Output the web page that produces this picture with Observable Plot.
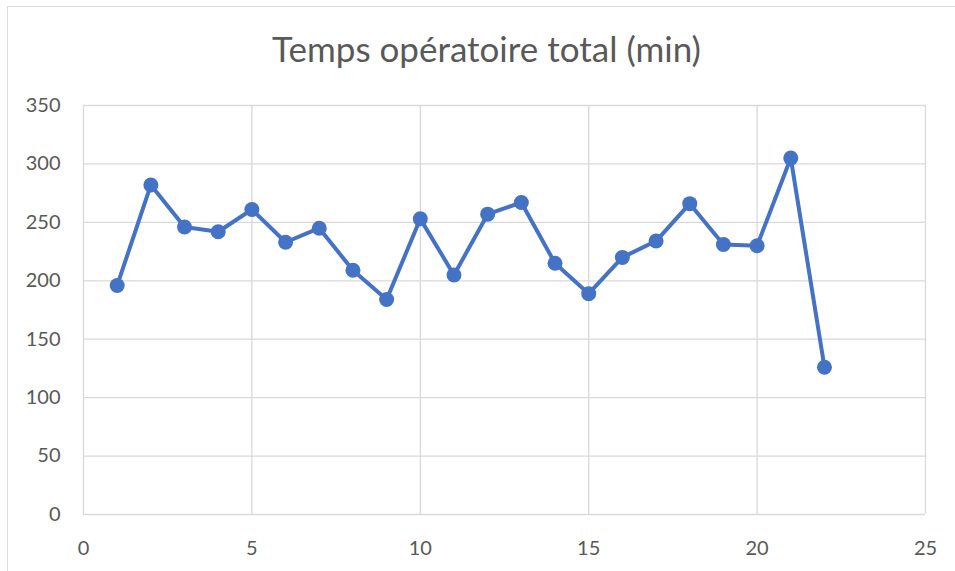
<!DOCTYPE html>
<html>
<head>
<meta charset="utf-8">
<script src="https://cdn.jsdelivr.net/npm/d3@7"></script>
<script src="https://cdn.jsdelivr.net/npm/@observablehq/plot@0.6"></script>
<style>
  html, body { margin: 0; padding: 0; background: #fff; }
  #wrap { position: relative; width: 955px; height: 571px; overflow: hidden; font-family: Lato, "Open Sans", sans-serif; }
  #frame { position: absolute; left: 7px; top: 6px; width: 960px; height: 580px; border: 1px solid #d9d9d9; box-sizing: border-box; }
  #title { position: absolute; left: 0; top: 28px; width: 973px; text-align: center; font-size: 35px; color: #595959; line-height: 40px; }
  #chart { position: absolute; left: 0; top: 0; }
</style>
</head>
<body>
<div id="wrap">
  <div id="frame"></div>
  <div id="title">Temps opératoire total (min)</div>
  <div id="chart"></div>
</div>
<script>
const caseNumbers = [1, 2, 3, 4, 5, 6, 7, 8, 9, 10, 11, 12, 13, 14, 15, 16, 17, 18, 19, 20, 21, 22];
const totalMinutes = [196, 282, 246, 242, 261, 233, 245, 209, 184, 253, 205, 257, 267, 215, 189, 220, 234, 266, 231, 230, 305, 126];
const xTicks = [0, 5, 10, 15, 20, 25];
const yTicks = [0, 50, 100, 150, 200, 250, 300, 350];

const data = caseNumbers.map((n, i) => ({ n, v: totalMinutes[i] }));
const blue = "#4472C4";

const chart = Plot.plot({
  width: 955,
  height: 571,
  marginLeft: 83,
  marginRight: 30,
  marginTop: 105,
  marginBottom: 57,
  style: { fontFamily: "Lato, 'Open Sans', sans-serif", fontSize: "20px", color: "#595959", background: "transparent" },
  x: { domain: [0, 25], ticks: xTicks },
  y: { domain: [0, 350], ticks: yTicks },
  marks: [
    Plot.gridX(xTicks, { stroke: "#d9d9d9", strokeOpacity: 1, strokeWidth: 1.3 }),
    Plot.gridY(yTicks, { stroke: "#d9d9d9", strokeOpacity: 1, strokeWidth: 1.3 }),
    Plot.axisX(xTicks, { tickSize: 0, tickPadding: 26, label: null, fill: "#595959" }),
    Plot.axisY(yTicks, { tickSize: 0, tickPadding: 23, label: null, fill: "#595959" }),
    Plot.line(data, { x: "n", y: "v", stroke: blue, strokeWidth: 4 }),
    Plot.dot(data, { x: "n", y: "v", fill: blue, r: 7.5 })
  ]
});
document.getElementById("chart").appendChild(chart);
</script>
</body>
</html>
